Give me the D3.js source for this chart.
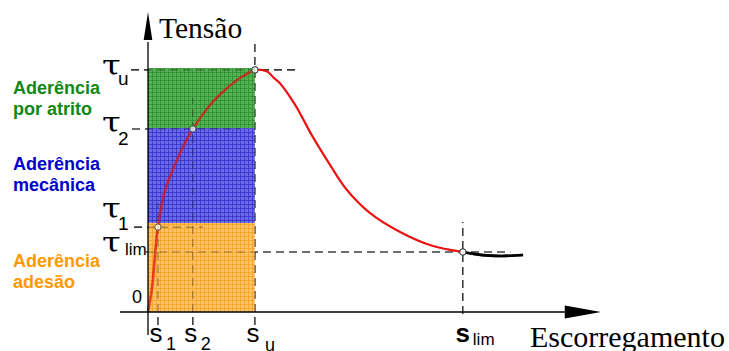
<!DOCTYPE html>
<html>
<head>
<meta charset="utf-8">
<script src="https://cdn.jsdelivr.net/npm/d3@7"></script>
<style>
  body { margin: 0; background: #fff; }
  svg { display: block; }
  .serif { font-family: "Liberation Serif", "Times New Roman", serif; }
  .sans { font-family: "Liberation Sans", Arial, sans-serif; }
  .tau { font-family: "DejaVu Serif", serif; }
</style>
</head>
<body>
<script>
// slip values (x) and bond stress values (y), arbitrary units 0..100
var slipNames = ["1", "2", "u", "lim"];
var slipValues = [2.2, 9.9, 23.6, 69.5];
var slipGuideTop = [36.3, 71.3, 90.7, 30];

var tauNames = ["u", "2", "1", "lim"];
var tauValues = [80.7, 61, 28.3, 20];
var tauGuideEnd = [33, 20.3, 12.1, 80];

// bond zones (stress bands, below s_u)
var zoneNames = [["Aderência", "adesão"], ["Aderência", "mecânica"], ["Aderência", "por atrito"]];
var zoneBounds = [0, 29.7, 61.3, 81.3];
var zoneColors = ["#ffc266", "#6a6ae8", "#55b255"];
var zoneGrid = ["#f2a126", "#3333cc", "#2f8f2f"];
var zoneText = ["#ff9900", "#0000cc", "#118811"];

// bond–slip curve: rising branch up to s_u, softening to s_lim, then residual
var riseX = [0, 0.9, 1.5, 2.0, 2.2, 3.8, 7.1, 9.9, 13.7, 17, 20.3, 23.6];
var riseY = [0, 8.3, 18.3, 26.3, 28.3, 40.7, 53, 61, 69, 74, 78, 80.7];
var fallX = [23.6, 25.2, 26.5, 27.6, 29.1, 32.5, 36.4, 40.2, 43.9, 49, 55.6, 62.3, 69.5];
var fallY = [80.7, 80.7, 80, 78.3, 76.3, 69, 58.3, 49, 40.7, 33, 26.7, 22.3, 20];
var tailX = [69.5, 72.2, 75.5, 78.8, 82.8];
var tailY = [20, 19.3, 18.8, 18.7, 19];

var W = 729, H = 351;
var svg = d3.select("body").append("svg")
    .attr("width", W)
    .attr("height", H);

var x = d3.scaleLinear().domain([0, 100]).range([148, 601]);
var y = d3.scaleLinear().domain([0, 100]).range([312, 12]);

// grid hatch patterns for the zones
var defs = svg.append("defs");
zoneColors.forEach(function(c, i) {
    var p = defs.append("pattern")
        .attr("id", "grid" + i)
        .attr("width", 4)
        .attr("height", 4)
        .attr("patternUnits", "userSpaceOnUse");
    p.append("rect").attr("width", 4).attr("height", 4).attr("fill", c);
    p.append("path")
        .attr("d", "M0,0.5H4M0.5,0V4")
        .attr("stroke", zoneGrid[i])
        .attr("stroke-width", 1)
        .attr("stroke-opacity", 0.8);
});

function pts(xs, ys) {
    return xs.map(function(v, i) { return [v, ys[i]]; });
}
var line = d3.line()
    .x(function(d) { return x(d[0]); })
    .y(function(d) { return y(d[1]); })
    .curve(d3.curveCatmullRom.alpha(0.5));

function drawGuides(g) {
    g.selectAll(".hguide").data(tauValues).enter().append("line")
        .attr("class", "hguide")
        .attr("x1", function(d, i) { return x(0) - [17, 16, 14, 2][i]; })
        .attr("x2", function(d, i) { return x(tauGuideEnd[i]); })
        .attr("y1", function(d) { return y(d); })
        .attr("y2", function(d) { return y(d); });
    g.selectAll(".vguide").data(slipValues).enter().append("line")
        .attr("class", "vguide")
        .attr("x1", function(d) { return x(d); })
        .attr("x2", function(d) { return x(d); })
        .attr("y1", function(d, i) { return y(slipNames[i] == "lim" ? -0.7 : -4.3); })
        .attr("y2", function(d, i) { return y(slipGuideTop[i]); });
    g.selectAll("line")
        .attr("stroke", "#111")
        .attr("stroke-width", 1.1)
        .attr("stroke-dasharray", "8,5");
}

function drawCurve(g, w) {
    g.append("path").attr("d", line(pts(fallX, fallY)))
        .attr("fill", "none").attr("stroke", "#ee1111").attr("stroke-width", 2);
    g.append("path").attr("d", line(pts(riseX, riseY)))
        .attr("fill", "none").attr("stroke", "#e01010").attr("stroke-width", w);
    g.append("path").attr("d", line(pts(tailX, tailY)))
        .attr("fill", "none").attr("stroke", "#000").attr("stroke-width", 2.6);
    g.selectAll(".pt").data(slipValues).enter().append("circle")
        .attr("class", "pt")
        .attr("cx", function(d) { return x(d); })
        .attr("cy", function(d, i) { return y(tauValues[tauNames.indexOf(slipNames[i])]); })
        .attr("r", 3.2)
        .attr("fill", "#fff")
        .attr("stroke", "#333")
        .attr("stroke-width", 1);
}

// under layer
var under = svg.append("g");
drawGuides(under);
drawCurve(under, 2);

// zones
svg.append("g").selectAll("rect").data(zoneColors).enter().append("rect")
    .attr("x", x(0))
    .attr("width", x(slipValues[2]) - x(0))
    .attr("y", function(d, i) { return y(zoneBounds[i + 1]); })
    .attr("height", function(d, i) { return y(zoneBounds[i]) - y(zoneBounds[i + 1]); })
    .attr("fill", function(d, i) { return "url(#grid" + i + ")"; });

// see-through layer over the zones
var over = svg.append("g").attr("opacity", 0.4);
drawGuides(over);
var overCurve = svg.append("g").attr("opacity", 0.72);
drawCurve(overCurve, 2.6);

// axes
var axes = svg.append("g").attr("stroke", "#000").attr("stroke-width", 1.3);
axes.append("line")
    .attr("x1", x(-6.2)).attr("x2", x(92))
    .attr("y1", y(0)).attr("y2", y(0));
axes.append("line")
    .attr("x1", x(0)).attr("x2", x(0))
    .attr("y1", y(-7.7)).attr("y2", y(90));
svg.append("path")
    .attr("d", "M" + x(92) + "," + (y(0) - 6.5) + "L" + x(100) + "," + y(0) + "L" + x(92) + "," + (y(0) + 6.5) + "Z")
    .attr("fill", "#000");
svg.append("path")
    .attr("d", "M" + (x(0) - 4.3) + "," + y(90.7) + "L" + x(0) + "," + y(100) + "L" + (x(0) + 4.3) + "," + y(90.7) + "Z")
    .attr("fill", "#000");

// axis titles
svg.append("text").attr("class", "serif")
    .attr("x", 159).attr("y", 38)
    .attr("font-size", 29.5)
    .text("Tensão");
svg.append("text").attr("class", "serif")
    .attr("x", 530).attr("y", 347)
    .attr("font-size", 30)
    .text("Escorregamento");
svg.append("text").attr("class", "sans")
    .attr("x", 142).attr("y", 303)
    .attr("text-anchor", "end")
    .attr("font-size", 18)
    .text("0");

// tau labels
var tauDy = [5, 3, -9, 0];
var subDy = [10, 13, 12, 3];
var tauG = svg.append("g");
tauValues.forEach(function(v, i) {
    var yy = y(v) + tauDy[i];
    tauG.append("text").attr("class", "tau")
        .attr("transform", "translate(102," + yy + ") scale(1.25,1)")
        .attr("font-size", 27)
        .text("τ");
    var lim = tauNames[i] == "lim";
    tauG.append("text").attr("class", "sans")
        .attr("x", lim ? 125 : 118)
        .attr("y", yy + subDy[i])
        .attr("font-size", lim ? 17 : 19)
        .text(tauNames[i]);
});

// slip labels
var sG = svg.append("g").attr("class", "sans");
slipValues.forEach(function(v, i) {
    var lim = slipNames[i] == "lim";
    sG.append("text")
        .attr("x", x(v) - (lim ? 0 : 2)).attr("y", 342)
        .attr("text-anchor", "middle")
        .attr("font-size", 26)
        .attr("font-weight", lim ? "bold" : "normal")
        .text("s");
    sG.append("text")
        .attr("x", x(v) + (lim ? 10 : (slipNames[i] == "u" ? 10 : 8)))
        .attr("y", lim ? 345 : (slipNames[i] == "u" ? 351 : 350))
        .attr("font-size", lim ? 17 : 18)
        .text(slipNames[i]);
});

// zone labels
var labelY = [267, 170, 94];
zoneNames.forEach(function(lines, i) {
    var t = svg.append("text").attr("class", "sans")
        .attr("x", 13)
        .attr("y", labelY[i])
        .attr("font-size", 18)
        .attr("font-weight", "bold")
        .attr("fill", zoneText[i]);
    lines.forEach(function(s, j) {
        t.append("tspan").attr("x", 13).attr("dy", j ? 21 : 0).text(s);
    });
});
</script>
</body>
</html>
